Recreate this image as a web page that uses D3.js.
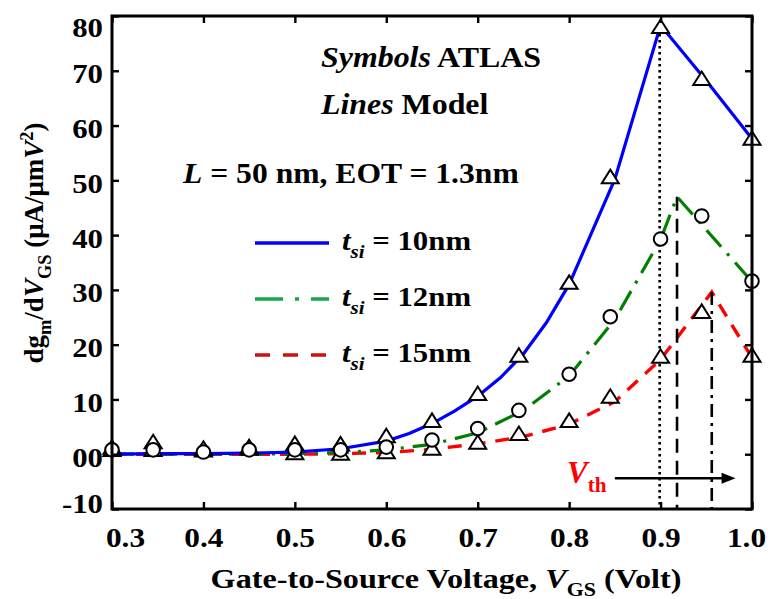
<!DOCTYPE html>
<html>
<head>
<meta charset="utf-8">
<script src="https://cdn.jsdelivr.net/npm/d3@7"></script>
<style>
  body { margin: 0; background: #fff; }
  svg { display: block; }
  text { font-family: "Liberation Serif", "Times New Roman", serif; font-weight: bold; fill: #000; }
</style>
</head>
<body>
<svg id="chart" width="768" height="599"></svg>
<script>
// ---- Model curves (lines) ----
const tsi10Vgs = [0.30, 0.35, 0.40, 0.45, 0.50, 0.55, 0.60, 0.625, 0.65, 0.675, 0.70, 0.725, 0.75, 0.775, 0.80, 0.85, 0.90, 0.95, 1.00];
const tsi10Val = [0.0, 0.1, 0.1, 0.2, 0.4, 1.0, 2.4, 3.8, 5.6, 7.9, 10.6, 14.0, 18.3, 24.0, 31.0, 50.2, 78.3, 68.2, 57.6];

const tsi12Vgs = [0.30, 0.35, 0.40, 0.45, 0.50, 0.55, 0.60, 0.65, 0.70, 0.75, 0.80, 0.85, 0.90, 0.918, 1.00];
const tsi12Val = [0.0, 0.0, 0.0, 0.0, 0.1, 0.3, 0.8, 1.8, 3.9, 8.0, 14.3, 24.6, 39.2, 47.0, 31.5];

const tsi15Vgs = [0.30, 0.35, 0.40, 0.45, 0.50, 0.55, 0.60, 0.65, 0.70, 0.75, 0.80, 0.85, 0.90, 0.956, 1.00];
const tsi15Val = [0.0, 0.0, 0.0, 0.0, 0.0, 0.1, 0.3, 0.9, 1.9, 3.2, 5.5, 9.6, 17.3, 29.6, 17.6];

// ---- ATLAS simulation (symbols) ----
const atlasVgs = [0.30, 0.345, 0.40, 0.45, 0.50, 0.55, 0.60, 0.65, 0.70, 0.745, 0.80, 0.845, 0.90, 0.945, 1.00];
const atlas10 = [1.0, 2.0, 0.8, 1.1, 1.7, 1.6, 3.1, 5.9, 10.8, 17.8, 31.1, 50.4, 77.8, 68.3, 57.4];
const atlas12 = [0.8, 0.8, 0.4, 0.8, 0.8, 0.8, 1.3, 2.6, 4.7, 8.0, 14.6, 25.1, 39.3, 43.5, 31.6];
const atlas15 = [0.6, 0.6, 0.5, 0.8, 0.0, -0.1, 0.2, 0.8, 1.9, 3.5, 5.9, 10.3, 17.6, 25.8, 17.8];

// ---- Threshold (peak) markers ----
const vthVgs = [0.899, 0.918, 0.956];
const vthPeak = [77.8, 47.0, 29.6];

// ---- Axis ticks ----
const xTicks = [0.3, 0.4, 0.5, 0.6, 0.7, 0.8, 0.9, 1.0];
const xTickLabels = ["0.3", "0.4", "0.5", "0.6", "0.7", "0.8", "0.9", "1.0"];
const yTicks = [-10, 0, 10, 20, 30, 40, 50, 60, 70, 80];
const yTickLabels = ["-10", "00", "10", "20", "30", "40", "50", "60", "70", "80"];

const legendLabels = ["10nm", "12nm", "15nm"];

const svg = d3.select("#chart");
const L = 112, T = 16, R = 752, B = 509;

const x = d3.scaleLinear().domain([0.3, 1.0]).range([L, R]);
const y = d3.scaleLinear().domain([-10, 80]).range([B, T]);

// helper: rich text with italic / subscript / superscript parts,
// optionally widened horizontally by opts.sx
function rich(parent, px, py, size, parts, opts = {}) {
  const sx = opts.sx || 1;
  const rot = opts.rotate ? ` rotate(${opts.rotate})` : "";
  const t = parent.append("text")
    .attr("transform", `translate(${px},${py})${rot} scale(${sx},1)`)
    .style("font-size", size + "px")
    .attr("text-anchor", opts.anchor || "start");
  if (opts.fill) t.style("fill", opts.fill);
  let shift = 0;
  parts.forEach(p => {
    const s = t.append("tspan").text(p.t);
    if (p.i) s.style("font-style", "italic");
    let target = 0;
    if (p.sub) target = size * 0.28;
    if (p.sup) target = -size * 0.38;
    if (p.sub || p.sup) s.style("font-size", (size * 0.68) + "px");
    if (target !== shift) { s.attr("dy", target - shift); shift = target; }
  });
  return t;
}

// ---- model lines ----
const line = d3.line().x(d => x(d[0])).y(d => y(d[1]));
const zipper = (a, b) => a.map((v, i) => [v, b[i]]);

svg.append("path").attr("d", line(zipper(tsi15Vgs, tsi15Val)))
  .attr("fill", "none").attr("stroke", "#ff0000").attr("stroke-width", 3.4)
  .attr("stroke-dasharray", "14,10");
svg.append("path").attr("d", line(zipper(tsi12Vgs, tsi12Val)))
  .attr("fill", "none").attr("stroke", "#008000").attr("stroke-width", 3.2)
  .attr("stroke-dasharray", "22,9,3,9");
svg.append("path").attr("d", line(zipper(tsi10Vgs, tsi10Val)))
  .attr("fill", "none").attr("stroke", "#0000ff").attr("stroke-width", 3.2);

// ---- threshold verticals ----
const vStyles = ["2.5,3.5", "14,8", "13,6,3,6"];
vthVgs.forEach((v, i) => {
  svg.append("line")
    .attr("x1", x(v)).attr("x2", x(v))
    .attr("y1", y(vthPeak[i])).attr("y2", B)
    .attr("stroke", "#000").attr("stroke-width", 2.6)
    .attr("stroke-dasharray", vStyles[i]);
});

// ---- markers ----
const tri = "M0,-8.5L8.5,5L-8.5,5Z";
function triangles(vals) {
  svg.append("g").selectAll("path").data(zipper(atlasVgs, vals)).join("path")
    .attr("d", tri)
    .attr("transform", d => `translate(${x(d[0])},${y(d[1])})`)
    .attr("fill", "#fff").attr("stroke", "#000").attr("stroke-width", 2);
}
triangles(atlas15);
triangles(atlas10);
svg.append("g").selectAll("circle").data(zipper(atlasVgs, atlas12)).join("circle")
  .attr("cx", d => x(d[0])).attr("cy", d => y(d[1])).attr("r", 6.8)
  .attr("fill", "#fff").attr("stroke", "#000").attr("stroke-width", 2);

// ---- frame and ticks ----
svg.append("rect").attr("x", L).attr("y", T).attr("width", R - L).attr("height", B - T)
  .attr("fill", "none").attr("stroke", "#000").attr("stroke-width", 3);

const gxB = svg.append("g").attr("transform", `translate(0,${B})`)
  .call(d3.axisBottom(x).tickValues(xTicks).tickSize(-7).tickFormat((d, i) => xTickLabels[i]));
const gxT = svg.append("g").attr("transform", `translate(0,${T})`)
  .call(d3.axisTop(x).tickValues(xTicks).tickSize(-7).tickFormat(""));
const gyL = svg.append("g").attr("transform", `translate(${L},0)`)
  .call(d3.axisLeft(y).tickValues(yTicks).tickSize(-7).tickFormat((d, i) => yTickLabels[i]));
const gyR = svg.append("g").attr("transform", `translate(${R},0)`)
  .call(d3.axisRight(y).tickValues(yTicks).tickSize(-7).tickFormat(""));

[gxB, gxT, gyL, gyR].forEach(g => {
  g.select(".domain").remove();
  g.selectAll(".tick line").attr("stroke", "#000").attr("stroke-width", 2.4);
});

gxB.selectAll(".tick text")
  .attr("x", 0).attr("y", 0).attr("dy", 0)
  .attr("transform", (d, i) => {
    const dx = i === 0 ? 13 : (i === xTicks.length - 1 ? -6 : 0);
    return `translate(${dx},38) scale(1.12,1)`;
  })
  .style("font-family", "'Liberation Serif', serif").style("font-weight", "bold")
  .style("font-size", "28px").attr("fill", "#000");

gyL.selectAll(".tick text")
  .attr("x", 0).attr("y", 0).attr("dy", 0)
  .attr("transform", (d, i) => {
    const dy = i === yTicks.length - 1 ? 20 : (i === 0 ? 3 : 12);
    return `translate(-9,${dy}) scale(1.1,1)`;
  })
  .style("font-family", "'Liberation Serif', serif").style("font-weight", "bold")
  .style("font-size", "28px").attr("fill", "#000");

// ---- axis titles ----
rich(svg, 446, 588, 28, [
  { t: "Gate-to-Source Voltage, " }, { t: "V", i: true }, { t: "GS", sub: true }, { t: " (Volt)" }
], { anchor: "middle", sx: 1.15 });

rich(svg, 43, 243, 27, [
  { t: "dg" }, { t: "m", sub: true }, { t: "/d" }, { t: "V", i: true }, { t: "GS", sub: true },
  { t: " (μA/μm" }, { t: "V", i: true }, { t: "2", sup: true }, { t: ")" }
], { anchor: "middle", rotate: -90 });

// ---- annotations ----
rich(svg, 321, 67, 29, [{ t: "Symbols", i: true }, { t: " ATLAS" }], { sx: 1.1 });
rich(svg, 321, 114, 29, [{ t: "Lines", i: true }, { t: " Model" }], { sx: 1.1 });
rich(svg, 183, 183, 29, [{ t: "L", i: true }, { t: " = 50 nm, EOT = 1.3nm" }], { sx: 1.09 });

// ---- legend ----
const legColors = ["#0000ff", "#16a84a", "#cc1010"];
const legDash = [null, "28,12,4,12", "15,13"];
const legY = [243, 299, 355];
legendLabels.forEach((lab, i) => {
  svg.append("line").attr("x1", 255).attr("x2", 329).attr("y1", legY[i]).attr("y2", legY[i])
    .attr("stroke", legColors[i]).attr("stroke-width", 3.4)
    .attr("stroke-dasharray", legDash[i]);
  rich(svg, 342, legY[i] + 7, 28, [{ t: "t", i: true }, { t: "si", i: true, sub: true }, { t: " = " + lab }], { sx: 1.1 });
});

// ---- Vth arrow ----
const arrowY = -4.4;
svg.append("line").attr("x1", x(0.85)).attr("x2", x(0.972)).attr("y1", y(arrowY)).attr("y2", y(arrowY))
  .attr("stroke", "#000").attr("stroke-width", 2.5);
svg.append("path")
  .attr("d", `M${x(0.982)},${y(arrowY)}L${x(0.982) - 14},${y(arrowY) - 5.5}L${x(0.982) - 14},${y(arrowY) + 5.5}Z`)
  .attr("fill", "#000");
rich(svg, 567, 483, 31, [{ t: "V", i: true }, { t: "th", sub: true }], { fill: "#ff0000" });
</script>
</body>
</html>
